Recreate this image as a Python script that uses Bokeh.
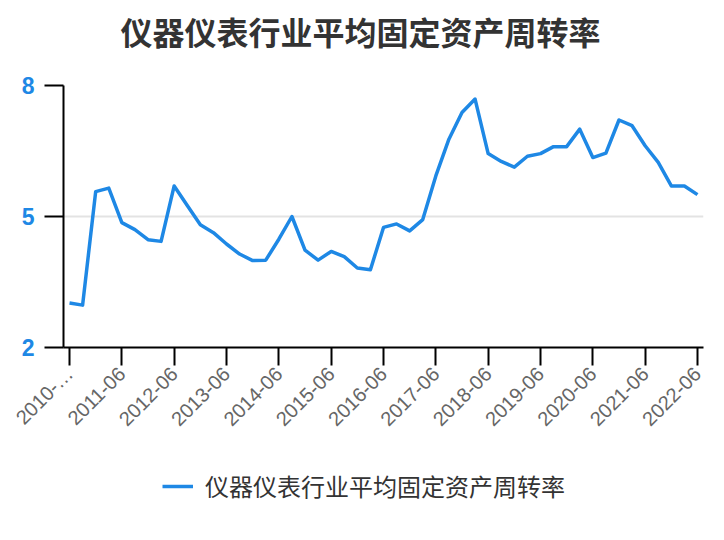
import math
from bokeh.plotting import figure
from bokeh.layouts import column
from bokeh.models import FixedTicker, Legend, LegendItem, Range1d, ColumnDataSource, Label
from bokeh.embed import file_html
from bokeh.resources import INLINE

title_text = "仪器仪表行业平均固定资产周转率"
series_name = "仪器仪表行业平均固定资产周转率"

quarters = [
    "2010-06", "2010-09", "2010-12", "2011-03",
    "2011-06", "2011-09", "2011-12", "2012-03",
    "2012-06", "2012-09", "2012-12", "2013-03",
    "2013-06", "2013-09", "2013-12", "2014-03",
    "2014-06", "2014-09", "2014-12", "2015-03",
    "2015-06", "2015-09", "2015-12", "2016-03",
    "2016-06", "2016-09", "2016-12", "2017-03",
    "2017-06", "2017-09", "2017-12", "2018-03",
    "2018-06", "2018-09", "2018-12", "2019-03",
    "2019-06", "2019-09", "2019-12", "2020-03",
    "2020-06", "2020-09", "2020-12", "2021-03",
    "2021-06", "2021-09", "2021-12", "2022-03",
    "2022-06",
]

turnover = [
    3.02, 2.97, 5.57, 5.65,
    4.86, 4.70, 4.47, 4.43,
    5.70, 5.25, 4.81, 4.63,
    4.37, 4.14, 3.99, 4.00,
    4.48, 5.00, 4.23, 4.00,
    4.20, 4.08, 3.82, 3.78,
    4.75, 4.83, 4.67, 4.93,
    5.93, 6.77, 7.38, 7.69,
    6.44, 6.26, 6.13, 6.38,
    6.44, 6.60, 6.60, 7.00,
    6.35, 6.45, 7.21, 7.08,
    6.62, 6.24, 5.70, 5.70,
    5.50,
]

tick_labels = [
    "2010-…", "2011-06", "2012-06", "2013-06", "2014-06", "2015-06", "2016-06",
    "2017-06", "2018-06", "2019-06", "2020-06", "2021-06", "2022-06",
]
y_ticks = [2, 5, 8]

LINE_COLOR = "#1E88E5"
W = 716

idx = list(range(len(quarters)))
tick_pos = [i for i in idx if i % 4 == 0]

src = ColumnDataSource(dict(x=idx, y=turnover, q=quarters))


def strip(height):
    f = figure(
        width=W, height=height, output_backend="svg", toolbar_location=None,
        x_range=Range1d(0, 1), y_range=Range1d(0, 1),
        min_border_left=0, min_border_right=0, min_border_top=0, min_border_bottom=0,
    )
    f.axis.visible = False
    f.grid.visible = False
    f.outline_line_color = None
    f.background_fill_color = "white"
    f.border_fill_color = "white"
    return f


# title strip
t = strip(70)
t.add_layout(Label(
    x=297, y=40, x_units="screen", y_units="screen", text=title_text,
    text_align="center", text_baseline="middle",
    text_font="Noto Sans CJK SC", text_font_size="32px", text_font_style="bold",
    text_color="#333333",
))

# main chart
p = figure(
    width=W, height=377, output_backend="svg", toolbar_location=None,
    x_range=Range1d(-0.46, len(quarters) - 1 + 0.46), y_range=Range1d(2, 8),
    min_border_left=63, min_border_right=13, min_border_top=15, min_border_bottom=100,
)
p.outline_line_color = None
p.background_fill_color = "white"
p.border_fill_color = "white"

r = p.line("x", "y", source=src, line_color=LINE_COLOR, line_width=3.5, line_join="round")

p.xgrid.visible = False
p.ygrid.grid_line_color = "#e3e3e3"
p.ygrid.grid_line_width = 2

ya = p.yaxis[0]
ya.ticker = FixedTicker(ticks=y_ticks)
ya.minor_tick_line_color = None
ya.axis_line_color = "black"
ya.axis_line_width = 2
ya.major_tick_line_color = "black"
ya.major_tick_line_width = 2
ya.major_tick_out = 19
ya.major_tick_in = 0
ya.major_label_standoff = 10
ya.major_label_text_color = LINE_COLOR
ya.major_label_text_font = "Liberation Sans"
ya.major_label_text_font_style = "bold"
ya.major_label_text_font_size = "23px"

xa = p.xaxis[0]
xa.ticker = FixedTicker(ticks=tick_pos)
xa.major_label_overrides = {tp: lab for tp, lab in zip(tick_pos, tick_labels)}
xa.minor_tick_line_color = None
xa.axis_line_color = "black"
xa.axis_line_width = 2
xa.major_tick_line_color = "black"
xa.major_tick_line_width = 2
xa.major_tick_out = 18
xa.major_tick_in = 0
xa.major_label_standoff = 5
xa.major_label_orientation = math.pi / 4
xa.major_label_text_color = "#666666"
xa.major_label_text_font = "Liberation Sans"
xa.major_label_text_font_size = "20px"

# legend strip below the chart (its line renderer lies outside the strip's view)
q = strip(85)
q.x_range = Range1d(-0.5, 0.5)
q.y_range = Range1d(100, 101)
lr = q.line("x", "y", source=src, line_color=LINE_COLOR, line_width=3.5)

legend = Legend(
    items=[LegendItem(label=series_name, renderers=[lr])],
    location=(99, 29), orientation="horizontal",
    border_line_color=None, background_fill_alpha=0,
    label_text_font="Noto Sans CJK SC", label_text_font_size="24px",
    label_text_color="#333333", glyph_width=31, label_standoff=12,
    padding=0, margin=0,
)
q.add_layout(legend, "center")

layout = column(t, p, q, spacing=0)
open("out.html", "w").write(file_html(layout, INLINE))
